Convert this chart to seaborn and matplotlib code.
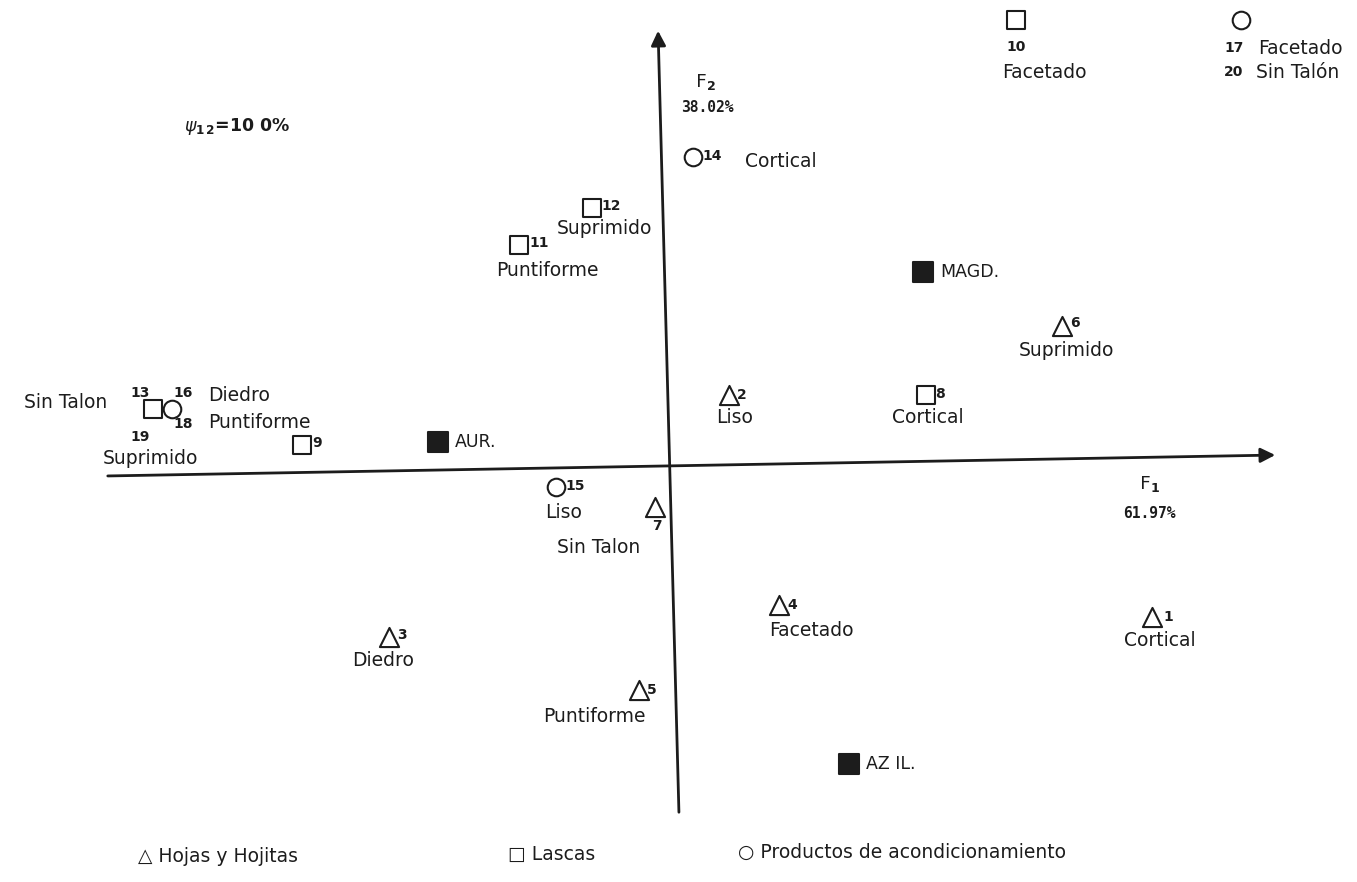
import numpy as np
import pandas as pd
import matplotlib
matplotlib.use("Agg")
import matplotlib.pyplot as plt
import seaborn as sns

# ---------------- data (factor scores) ----------------
hojas_id = ["1", "2", "3", "4", "5", "6", "7"]
hojas_f1 = [1.208, 0.150, -0.700, 0.275, -0.075, 0.983, -0.035]
hojas_f2 = [-0.378, 0.178, -0.428, -0.348, -0.560, 0.350, -0.103]
hojas_name = ["Cortical", "Liso", "Diedro", "Facetado", "Puntiforme", "Suprimido", "Sin Talon"]

lascas_id = ["8", "9", "10", "11", "12", "13"]
lascas_f1 = [0.643, -0.918, 0.868, -0.375, -0.193, -1.290]
lascas_f2 = [0.178, 0.053, 1.115, 0.553, 0.645, 0.143]
lascas_name = ["Cortical", "", "Facetado", "Puntiforme", "Suprimido", ""]

prod_id = ["14", "15", "16", "17"]
prod_f1 = [0.060, -0.283, -1.243, 1.430]
prod_f2 = [0.773, -0.053, 0.143, 1.115]
prod_name = ["Cortical", "Liso", "", ""]

period = ["MAGD.", "AUR.", "AZ IL."]
period_f1 = [0.635, -0.578, 0.450]
period_f2 = [0.485, 0.060, -0.745]

f1_pct = "61.97%"
f2_pct = "38.02%"
legend_labels = ["Hojas y Hojitas", "Lascas", "Productos de acondicionamiento"]

# ---------------- figure ----------------
sns.set_theme(style="white")
plt.rcParams["font.family"] = ["DejaVu Sans"]
INK = "#1c1c1c"

fig = plt.figure(figsize=(13.57, 8.82), dpi=100)
ax = fig.add_axes([0, 0, 1, 1])
ax.set_xlim(-1.6725, 1.72)
ax.set_ylim(-1.04, 1.165)
ax.axis("off")

# axes with arrows (slightly tilted as in the scan)
ax.annotate("", xy=(1.5225, 0.0275), xytext=(-1.41, -0.025),
            arrowprops=dict(arrowstyle="-|>", lw=2.0, color=INK, mutation_scale=22))
ax.annotate("", xy=(-0.0275, 1.095), xytext=(0.025, -0.8725),
            arrowprops=dict(arrowstyle="-|>", lw=2.0, color=INK, mutation_scale=22))

def scatter(xs, ys, marker, size, filled=False):
    df = pd.DataFrame({"F1": xs, "F2": ys})
    sns.scatterplot(data=df, x="F1", y="F2", marker=marker, s=size, color=INK,
                    linewidth=1.5, ax=ax, legend=False, zorder=3)
    coll = ax.collections[-1]
    coll.set_edgecolor(INK)
    if not filled:
        coll.set_facecolor("white")

scatter(hojas_f1, hojas_f2, "^", 190)
scatter(lascas_f1, lascas_f2, "s", 150)
scatter(prod_f1, prod_f2, "o", 160)
scatter(period_f1, period_f2, "s", 200, filled=True)

PX = 0.72  # pixel -> point
TXT = 13.5
def lab(x, y, text, dx, dy, ha="center", va="center", size=TXT, weight="normal"):
    ax.annotate(text, (x, y), xytext=(dx * PX, dy * PX), textcoords="offset points",
                ha=ha, va=va, fontsize=size, fontweight=weight, color=INK)

NUMSIZE = 10
h_num = [(11, 0, "left"), (8, 0, "left"), (8, 2, "left"), (8, 0, "left"), (8, 0, "left"), (8, 3, "left"), (2, -19, "center")]
h_nam = [(8, -23), (6, -23), (-6, -23), (32, -25), (-45, -26), (4, -25), (-56, -40)]
for i in range(len(hojas_id)):
    dx, dy, ha = h_num[i]
    lab(hojas_f1[i], hojas_f2[i], hojas_id[i], dx, dy, ha=ha, size=NUMSIZE, weight="bold")
    nx, ny = h_nam[i]
    lab(hojas_f1[i], hojas_f2[i], hojas_name[i], nx, ny)

l_num = [(9, 1, "left"), (10, 2, "left"), (0, -27, "center"), (10, 2, "left"), (10, 2, "left"), (-13, 16, "center")]
l_nam = [(2, -23), (0, 0), (28, -52), (28, -26), (13, -21), (0, 0)]
for i in range(len(lascas_id)):
    dx, dy, ha = l_num[i]
    lab(lascas_f1[i], lascas_f2[i], lascas_id[i], dx, dy, ha=ha, size=NUMSIZE, weight="bold")
    if lascas_name[i]:
        nx, ny = l_nam[i]
        lab(lascas_f1[i], lascas_f2[i], lascas_name[i], nx, ny)

p_num = [(9, 1, "left"), (10, 1, "left"), (11, 16, "center"), (-7, -28, "center")]
p_nam = [(52, -5, "left"), (8, -25, "center")]
for i in range(len(prod_id)):
    dx, dy, ha = p_num[i]
    lab(prod_f1[i], prod_f2[i], prod_id[i], dx, dy, ha=ha, size=NUMSIZE, weight="bold")
for i in range(2):
    nx, ny, ha = p_nam[i]
    lab(prod_f1[i], prod_f2[i], prod_name[i], nx, ny, ha=ha)

# stacked labels around 13/19 and 16/18
lab(lascas_f1[5], lascas_f2[5], "19", -13, -28, size=NUMSIZE, weight="bold")
lab(lascas_f1[5], lascas_f2[5], "Sin Talon", -87, 6)
lab(lascas_f1[5], lascas_f2[5], "Suprimido", -3, -50)
lab(prod_f1[2], prod_f2[2], "18", 11, -15, size=NUMSIZE, weight="bold")
lab(prod_f1[2], prod_f2[2], "Diedro", 36, 13, ha="left")
lab(prod_f1[2], prod_f2[2], "Puntiforme", 36, -14, ha="left")

# 17/20 top right
lab(prod_f1[3], prod_f2[3], "20", -7, -52, size=NUMSIZE, weight="bold")
lab(prod_f1[3], prod_f2[3], "Facetado", 17, -28, ha="left")
lab(prod_f1[3], prod_f2[3], "Sin Talón", 15, -53, ha="left")

# period labels
for i in range(len(period)):
    lab(period_f1[i], period_f2[i], period[i], 17, 0, ha="left", size=12.5)

# axis titles
MONO = "DejaVu Sans Mono"
ax.text(1.2, -0.045, r"$\mathregular{F}_\mathbf{1}$", fontsize=13, ha="center", va="center", color=INK, family=MONO)
ax.text(1.2, -0.118, f1_pct, fontsize=10.5, ha="center", va="center", color=INK, weight="bold", family=MONO)
ax.text(0.09, 0.96, r"$\mathregular{F}_\mathbf{2}$", fontsize=13, ha="center", va="center", color=INK, family=MONO)
ax.text(0.097, 0.895, f2_pct, fontsize=10.5, ha="center", va="center", color=INK, weight="bold", family=MONO)
ax.text(-1.08, 0.848, r"$\psi_{\mathbf{1\,2}}$=10 0%", fontsize=12.5, ha="center", va="center", color=INK, weight="bold")

# legend as text
ax.text(0.102, 0.029, "△ " + legend_labels[0], transform=ax.transAxes, fontsize=13.5, ha="left", va="center", color=INK)
ax.text(0.374, 0.031, "□ " + legend_labels[1], transform=ax.transAxes, fontsize=13.5, ha="left", va="center", color=INK)
ax.text(0.544, 0.033, "○ " + legend_labels[2], transform=ax.transAxes, fontsize=13.5, ha="left", va="center", color=INK)

fig.savefig("out.png", dpi=100, facecolor="white")
